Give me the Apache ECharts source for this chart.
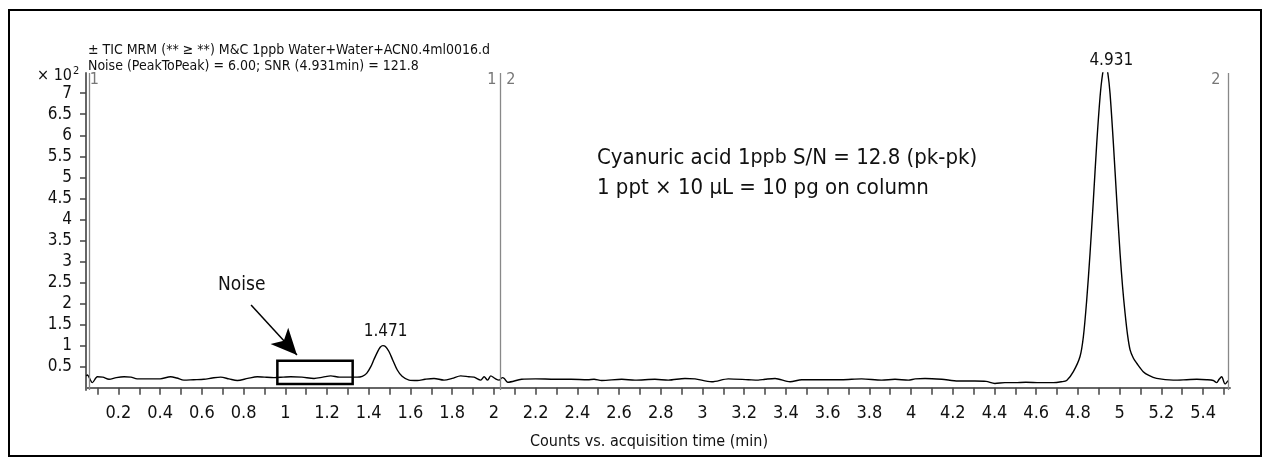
<!DOCTYPE html>
<html>
<head>
<meta charset="utf-8">
<script src="https://cdn.jsdelivr.net/npm/echarts@6/dist/echarts.min.js"></script>
<style>
  html, body { margin: 0; padding: 0; background: #fff; }
  #chart { width: 1270px; height: 464px; }
</style>
</head>
<body>
<div id="chart"></div>
<script>
// retention time (min)
var times = [0.046, 0.051, 0.075, 0.099, 0.125, 0.155, 0.19, 0.227, 0.26, 0.29, 0.35, 0.40, 0.45, 0.48, 0.514,
  0.56, 0.61, 0.65, 0.69, 0.73, 0.77, 0.82, 0.866, 0.90, 0.946, 0.99, 1.026, 1.08, 1.138, 1.18, 1.218, 1.26,
  1.313, 1.345, 1.369, 1.39, 1.41, 1.425, 1.441, 1.455, 1.468, 1.48, 1.497, 1.515, 1.537, 1.56, 1.593, 1.633,
  1.67, 1.713, 1.761, 1.80, 1.841, 1.88, 1.905, 1.937, 1.953, 1.97, 1.985, 2.005, 2.025, 2.04, 2.05, 2.066,
  2.133, 2.2, 2.293, 2.37, 2.45, 2.48, 2.517, 2.613, 2.676, 2.772, 2.836, 2.916, 2.964, 3.044, 3.124, 3.22,
  3.267, 3.30, 3.348, 3.42, 3.476, 3.56, 3.667, 3.763, 3.859, 3.923, 3.987, 4.02, 4.067, 4.147, 4.226, 4.306,
  4.36, 4.402, 4.45, 4.498, 4.55, 4.618, 4.682, 4.72, 4.746, 4.778, 4.810, 4.826, 4.842, 4.858, 4.874, 4.89,
  4.906, 4.918, 4.931, 4.944, 4.954, 4.970, 4.986, 5.002, 5.014, 5.026, 5.038, 5.05, 5.066, 5.082, 5.113,
  5.14, 5.177, 5.257, 5.321, 5.37, 5.417, 5.449, 5.465, 5.477, 5.489, 5.505, 5.52];
// counts x 10^2
var counts = [0.28, 0.30, 0.12, 0.26, 0.25, 0.20, 0.24, 0.26, 0.25, 0.21, 0.21, 0.21, 0.26, 0.23, 0.18,
  0.19, 0.20, 0.23, 0.25, 0.21, 0.17, 0.22, 0.26, 0.25, 0.24, 0.25, 0.26, 0.25, 0.22, 0.25, 0.28, 0.25,
  0.25, 0.25, 0.27, 0.34, 0.50, 0.67, 0.84, 0.96, 1.00, 0.98, 0.86, 0.66, 0.42, 0.27, 0.18, 0.17,
  0.20, 0.22, 0.18, 0.22, 0.28, 0.26, 0.25, 0.18, 0.26, 0.18, 0.28, 0.22, 0.18, 0.24, 0.22, 0.13,
  0.20, 0.21, 0.20, 0.20, 0.19, 0.20, 0.17, 0.20, 0.18, 0.20, 0.18, 0.22, 0.21, 0.14, 0.21, 0.19,
  0.18, 0.20, 0.22, 0.14, 0.19, 0.19, 0.19, 0.21, 0.18, 0.20, 0.18, 0.21, 0.22, 0.20, 0.16, 0.16,
  0.15, 0.10, 0.12, 0.12, 0.13, 0.12, 0.12, 0.14, 0.17, 0.38, 0.74, 1.21, 2.08, 3.19, 4.46, 5.80,
  6.91, 7.45, 7.75, 7.45, 6.99, 5.80, 4.46, 3.19, 2.40, 1.77, 1.25, 0.90, 0.70, 0.58, 0.38,
  0.29, 0.22, 0.18, 0.19, 0.20, 0.19, 0.17, 0.12, 0.20, 0.26, 0.09, 0.17];

var xTicks = [0.1, 0.2, 0.3, 0.4, 0.5, 0.6, 0.7, 0.8, 0.9, 1, 1.1, 1.2, 1.3, 1.4, 1.5, 1.6, 1.7, 1.8, 1.9, 2,
  2.1, 2.2, 2.3, 2.4, 2.5, 2.6, 2.7, 2.8, 2.9, 3, 3.1, 3.2, 3.3, 3.4, 3.5, 3.6, 3.7, 3.8, 3.9, 4,
  4.1, 4.2, 4.3, 4.4, 4.5, 4.6, 4.7, 4.8, 4.9, 5, 5.1, 5.2, 5.3, 5.4, 5.5];
var xLabels = [0.2, 0.4, 0.6, 0.8, 1, 1.2, 1.4, 1.6, 1.8, 2, 2.2, 2.4, 2.6, 2.8, 3, 3.2, 3.4, 3.6, 3.8, 4,
  4.2, 4.4, 4.6, 4.8, 5, 5.2, 5.4];
var yLabels = [0.5, 1, 1.5, 2, 2.5, 3, 3.5, 4, 4.5, 5, 5.5, 6, 6.5, 7];

// peaks and segment markers
var peaks = [[1.471, 0.99], [4.931, 7.4]];
var segmentLines = [0.061, 2.029, 5.518];
var noiseBox = [[0.962, 0.64], [1.323, 0.088]];
var noiseArrow = [[0.836, 1.964], [1.056, 0.777]];

var FONT = '"Liberation Sans Narrow", "DejaVu Sans Condensed", sans-serif';

var chartDom = document.getElementById('chart');
var myChart = echarts.init(chartDom);
var option;

var seriesData = [];
for (var i = 0; i < times.length; i++) {
  seriesData.push([times[i], counts[i]]);
}

option = {
  animation: false,
  backgroundColor: '#fff',
  textStyle: { fontFamily: FONT },
  title: [
    {
      text: '± TIC MRM (** ≥ **) M&C 1ppb Water+Water+ACN0.4ml0016.d',
      left: 83, top: 38,
      textStyle: { fontFamily: FONT, fontSize: 14, fontWeight: 'normal', color: '#111' }
    },
    {
      text: 'Noise (PeakToPeak) = 6.00; SNR (4.931min) = 121.8',
      left: 83, top: 54,
      textStyle: { fontFamily: FONT, fontSize: 14, fontWeight: 'normal', color: '#111' }
    }
  ],
  grid: { left: 86, right: 40, top: 73, bottom: 74 },
  xAxis: {
    type: 'value',
    min: 0.0446,
    max: 5.529,
    name: 'Counts vs. acquisition time (min)',
    nameLocation: 'middle',
    nameGap: 44,
    nameTextStyle: { fontFamily: FONT, fontSize: 16, color: '#111', padding: [0, 18, 0, 0] },
    axisLine: { lineStyle: { color: '#666', width: 2 } },
    axisTick: { show: true, length: 7, customValues: xTicks, lineStyle: { color: '#444', width: 1.5 } },
    axisLabel: {
      customValues: xLabels,
      margin: 14,
      fontFamily: FONT,
      fontSize: 18,
      color: '#111',
      formatter: function (v) { return String(Math.round(v * 10) / 10); }
    },
    splitLine: { show: false }
  },
  yAxis: {
    type: 'value',
    min: -0.055,
    max: 7.48,
    axisLine: { show: true, lineStyle: { color: '#666', width: 2 } },
    axisTick: { show: true, length: 6, customValues: yLabels, lineStyle: { color: '#444', width: 1.5 } },
    axisLabel: {
      customValues: yLabels,
      margin: 14,
      fontFamily: FONT,
      fontSize: 17,
      color: '#111'
    },
    splitLine: { show: false }
  },
  graphic: [
    // outer frame
    {
      type: 'rect',
      shape: { x: 9, y: 10, width: 1252, height: 446 },
      style: { fill: 'none', stroke: '#000', lineWidth: 2 }
    },
    {
      type: 'text',
      left: 37, top: 66,
      style: {
        text: '× 10{s|2}',
        font: '16px ' + FONT,
        fill: '#111',
        rich: { s: { fontSize: 11, fontFamily: FONT, verticalAlign: 'top', padding: [0, 0, 8, 1] } }
      }
    },
    {
      type: 'text',
      left: 597, top: 147,
      style: {
        text: 'Cyanuric acid 1{p|ppb} S/N = 12.8 (pk-pk)',
        font: '22px ' + FONT,
        fill: '#111',
        rich: { p: { fontFamily: '"DejaVu Sans", sans-serif', fontSize: 19 } }
      }
    },
    {
      type: 'text',
      left: 597, top: 177,
      style: { text: '1 ppt × 10 µL = 10 pg on column', font: '22px ' + FONT, fill: '#111' }
    },
    {
      type: 'text',
      left: 218, top: 276,
      style: { text: 'Noise', font: '19px ' + FONT, fill: '#111' }
    }
  ],
  series: [
    {
      name: 'TIC',
      type: 'line',
      data: seriesData,
      smooth: 0.3,
      symbol: 'none',
      clip: true,
      lineStyle: { color: '#000', width: 1.4 },
      markLine: {
        silent: true,
        symbol: ['none', 'none'],
        label: { show: false },
        lineStyle: { color: '#888', width: 1.3, type: 'solid' },
        data: [
          { xAxis: segmentLines[0] },
          { xAxis: segmentLines[1] },
          { xAxis: segmentLines[2] },
          [
            { coord: noiseArrow[0], symbol: 'none', lineStyle: { color: '#000', width: 1.5 } },
            { coord: noiseArrow[1], symbol: 'arrow', symbolSize: [18, 26] }
          ]
        ]
      },
      markArea: {
        silent: true,
        itemStyle: { color: 'rgba(0,0,0,0)', borderColor: '#000', borderWidth: 2.5 },
        data: [[{ coord: noiseBox[0] }, { coord: noiseBox[1] }]]
      },
      markPoint: {
        silent: true,
        symbol: 'circle',
        symbolSize: 0,
        label: { show: true, position: 'inside', fontFamily: FONT, fontSize: 17, color: '#111' },
        data: [
          { coord: peaks[0], value: '1.471', label: { offset: [2, -14] } },
          { coord: peaks[1], value: '4.931', label: { offset: [6, -16] } },
          { coord: [segmentLines[0], 7.31], value: '1', label: { offset: [5, 0], color: '#777', fontSize: 16 } },
          { coord: [segmentLines[1], 7.31], value: '1', label: { offset: [-8, 0], color: '#777', fontSize: 16 } },
          { coord: [segmentLines[1], 7.31], value: '2', label: { offset: [11, 0], color: '#777', fontSize: 16 } },
          { coord: [segmentLines[2], 7.31], value: '2', label: { offset: [-12, 0], color: '#777', fontSize: 16 } }
        ]
      }
    }
  ]
};

option && myChart.setOption(option);
</script>
</body>
</html>
